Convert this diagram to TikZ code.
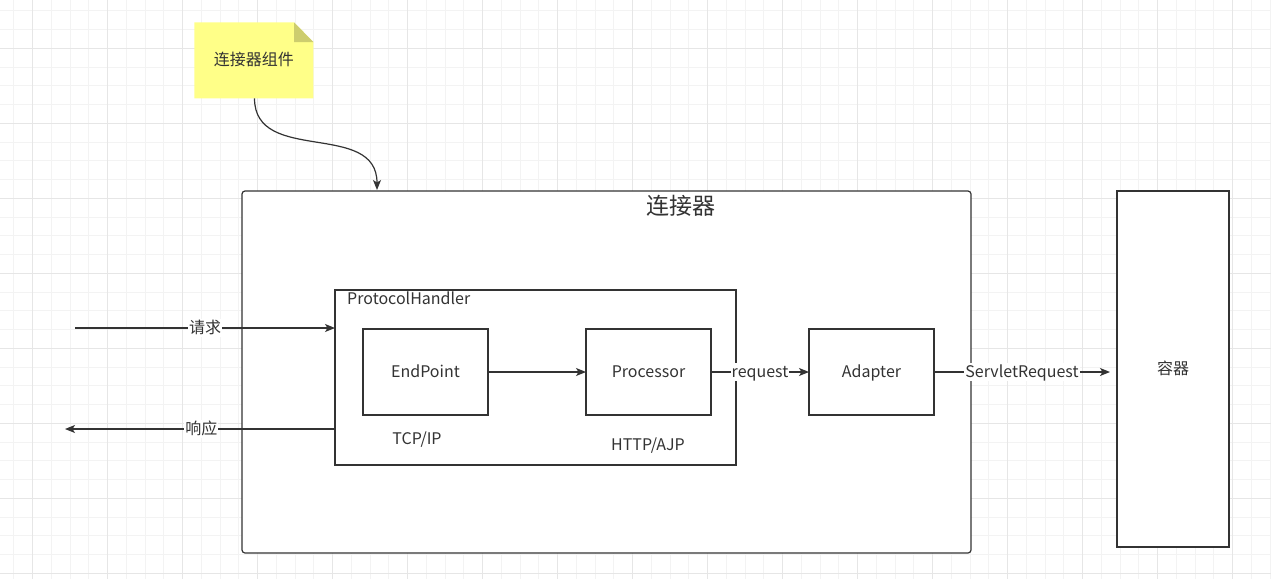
\documentclass[tikz,border=0pt]{standalone}
\usepackage{fontspec}
\setmainfont{Noto Sans CJK SC}
\usetikzlibrary{arrows.meta}
\definecolor{lc}{HTML}{333333}
\definecolor{tc}{HTML}{333333}
\definecolor{gminor}{HTML}{F3F3F3}
\definecolor{gmajor}{HTML}{E6E6E6}
\definecolor{notefill}{HTML}{FFFF88}
\definecolor{notefold}{HTML}{CDCD6E}
\tikzset{
  box/.style={draw=lc, fill=white, line width=1.2pt, inner sep=0pt, outer sep=0pt},
  txt/.style={text=tc, font=\fontsize{16}{19}\selectfont, inner sep=1pt, text height=13.5pt, text depth=2.5pt},
  titletxt/.style={text=tc, font=\fontsize{23}{27}\selectfont, inner sep=1pt},
  edgelbl/.style={fill=white, text=tc, font=\fontsize{16}{19}\selectfont, inner sep=1pt, text height=13.5pt, text depth=2.5pt},
  conn/.style={draw=lc, line width=1.2pt, -{Stealth[length=10pt,width=8pt,inset=2.5pt]}},
}
\begin{document}
\begin{tikzpicture}[x=1pt,y=-1pt]
\useasboundingbox (0,0) rectangle (1271,579);
\fill[white] (0,0) rectangle (1271,579);
% grid
\foreach \i in {0,...,69} {
  \draw[gminor, line width=1pt] ({-4.8+18.75*\i},0) -- ({-4.8+18.75*\i},579);
}
\foreach \i in {0,...,32} {
  \draw[gminor, line width=1pt] (0,{-7.95+18.75*\i}) -- (1271,{-7.95+18.75*\i});
}
\foreach \i in {0,...,17} {
  \draw[gmajor, line width=1pt] ({32.7+75*\i},0) -- ({32.7+75*\i},579);
}
\foreach \i in {0,...,8} {
  \draw[gmajor, line width=1pt] (0,{-26.7+75*\i}) -- (1271,{-26.7+75*\i});
}
% note
\fill[notefill] (194.3,22.3) -- (294,22.3) -- (313.3,42) -- (313.3,98.3) -- (194.3,98.3) -- cycle;
\fill[notefold] (294,22.3) -- (313.3,42) -- (294,42) -- cycle;
\node[txt] (note) at (253.8,60.3) {连接器组件};
\coordinate (notebot) at (254.5,98.3);
% connector box
\node[box, rounded corners=3pt, minimum width=729pt, minimum height=362pt, anchor=north west] (connbox) at (242,191) {};
\node[titletxt] (ctitle) at (681,206) {连接器};
% protocol handler
\node[box, minimum width=401pt, minimum height=175pt, anchor=north west] (ph) at (335,290) {};
\node[txt, anchor=west] (phlbl) at (346,299) {ProtocolHandler};
\node[box, txt, minimum width=125pt, minimum height=86pt] (endpoint) at (425.5,372) {EndPoint};
\node[box, txt, minimum width=125pt, minimum height=86pt] (processor) at (648.5,372) {Processor};
\node[txt] (tcp) at (417,439) {TCP/IP};
\node[txt] (http) at (648,445) {HTTP/AJP};
% adapter
\node[box, txt, minimum width=125pt, minimum height=86pt] (adapter) at (871.5,372) {Adapter};
% container
\node[box, txt, minimum width=112pt, minimum height=356pt, anchor=north west] (container) at (1117,191) {};
\node[txt] (ctext) at (1173,369) {容器};
% connectors
\coordinate (reqstart) at (75,328);
\coordinate (reqend) at (335,328);
\coordinate (respstart) at (335,429);
\coordinate (respend) at (65,429);
\coordinate (srvend) at (1110,372);
\coordinate (connin) at (377,190);
\draw[conn] (notebot) .. controls (254.5,165) and (377,120) .. (connin);
\draw[conn] (reqstart) -- node[edgelbl, pos=0.5] {请求} (reqend);
\draw[conn] (respstart) -- node[edgelbl, pos=0.495] {响应} (respend);
\draw[conn] (endpoint.east) -- (processor.west);
\draw[conn] (processor.east) -- node[edgelbl, pos=0.5] {request} (adapter.west);
\draw[conn] (adapter.east) -- node[edgelbl, pos=0.5] {ServletRequest} (srvend);
\end{tikzpicture}
\end{document}
